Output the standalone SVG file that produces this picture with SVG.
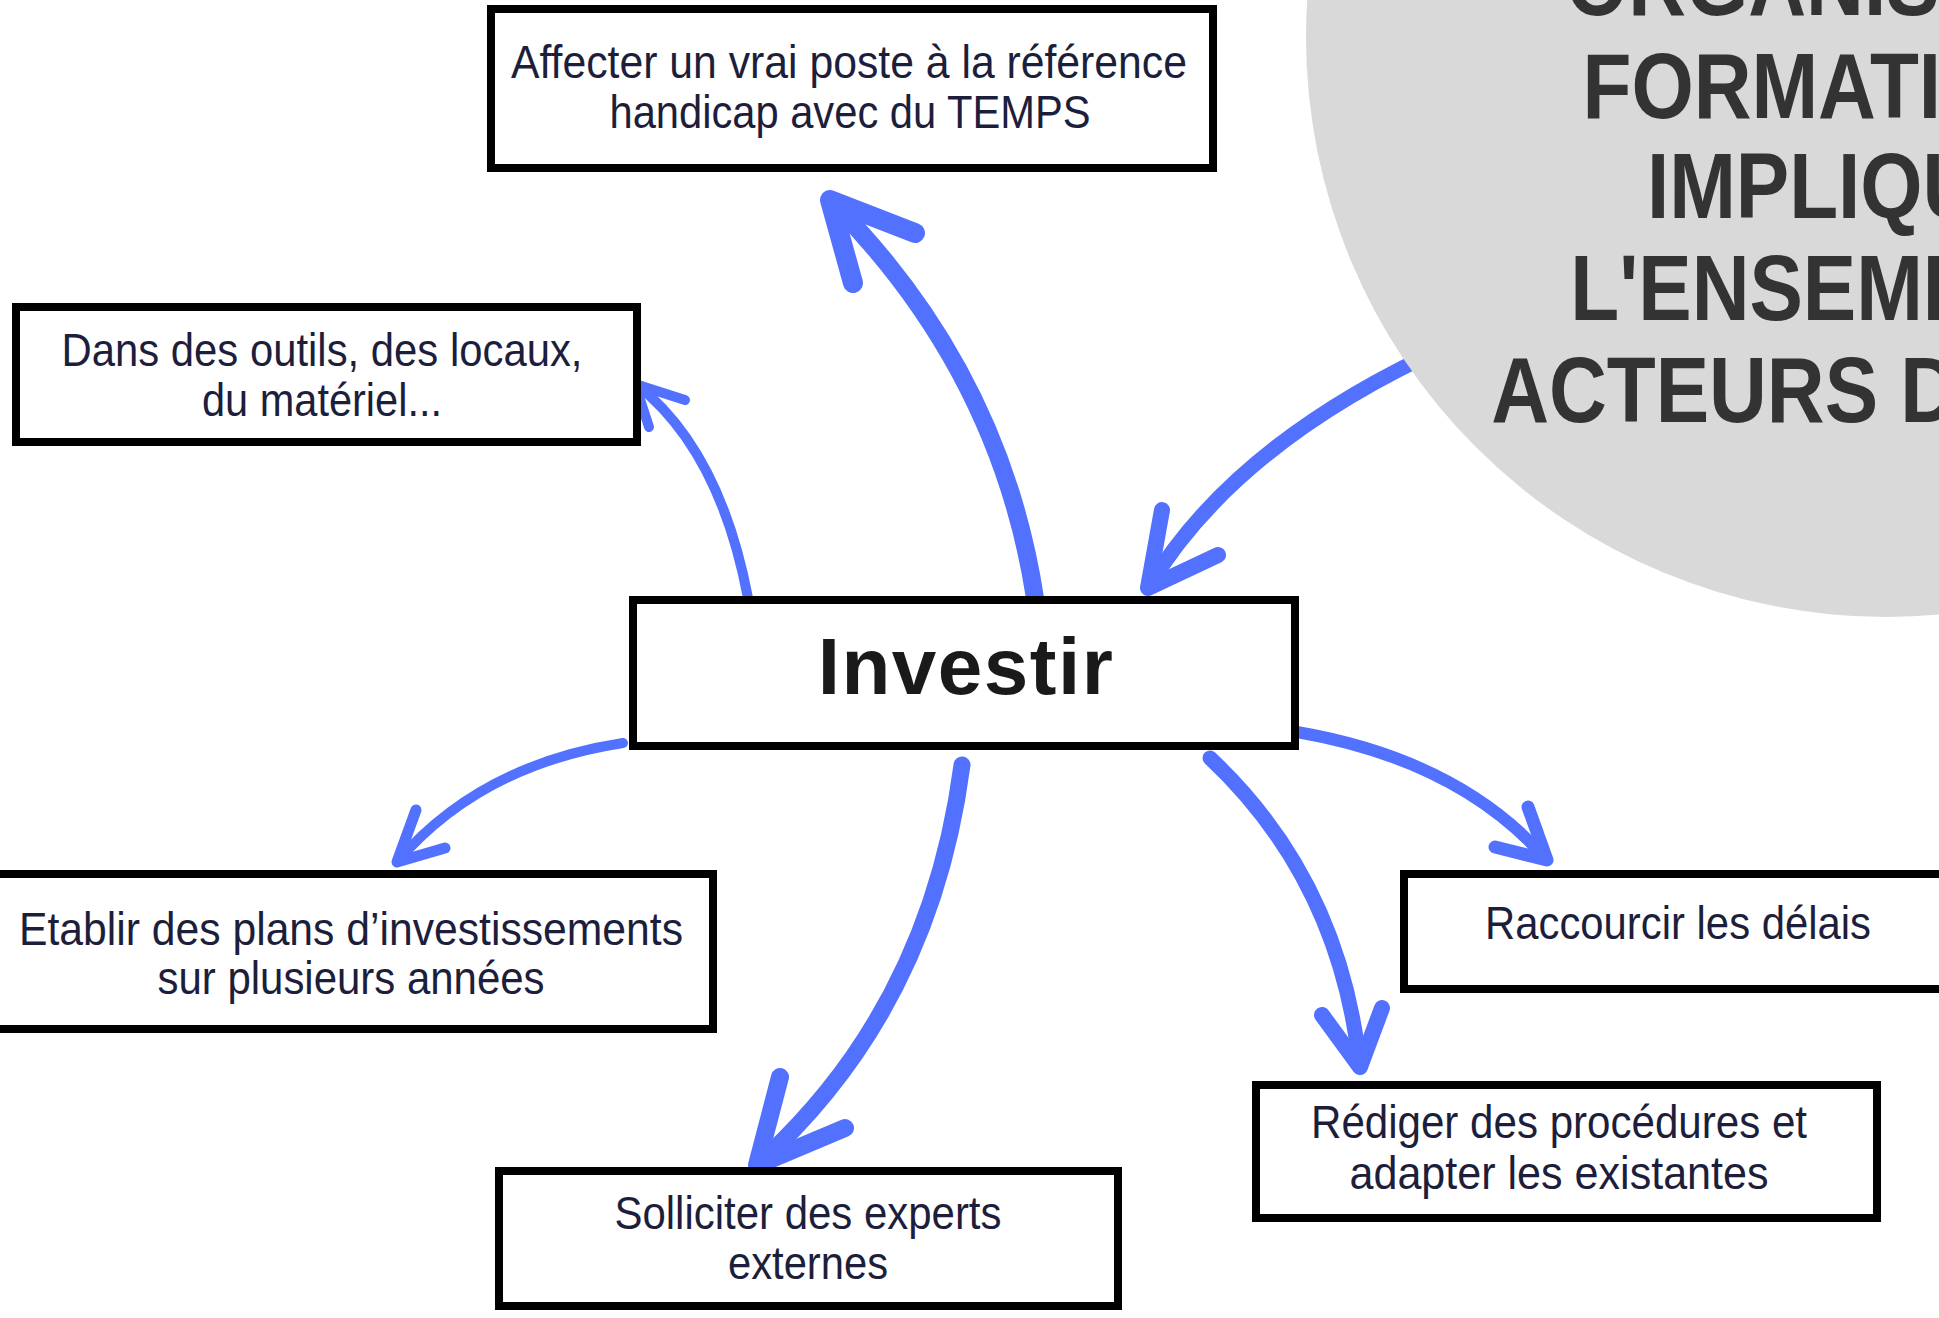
<svg xmlns="http://www.w3.org/2000/svg" width="1939" height="1318" viewBox="0 0 1939 1318">
<style>
.box{fill:#ffffff;stroke:#000000;stroke-width:8;stroke-linejoin:miter}
.lbl{font-family:"Liberation Sans",Arial,sans-serif;font-size:46px;fill:#1c1e3c;text-anchor:middle}
.title{font-family:"Liberation Sans",Arial,sans-serif;font-size:80px;font-weight:bold;fill:#1a1a1a;text-anchor:middle;letter-spacing:1.5px}
.arr{fill:none;stroke:#5271ff;stroke-linecap:round;stroke-linejoin:round}
.big{font-family:"Liberation Sans",Arial,sans-serif;font-size:92px;font-weight:bold;fill:#333333}
</style>
<rect width="1939" height="1318" fill="#ffffff"/>
<g id="connectors">
  <path class="arr" stroke-width="10" d="M748,598 Q720,450 636,384"/>
  <path class="arr" stroke-width="10" d="M685,400 L635,384 L649,427"/>
  <path class="arr" stroke-width="18" d="M1035,598 Q1000,370 830,200"/>
  <path class="arr" stroke-width="20" d="M915,233 L830,200 L853,283"/>
  <path class="arr" stroke-width="15" d="M1450,345 Q1235,442 1148,588"/>
  <path class="arr" stroke-width="16" d="M1162,510 L1148,588 L1218,555"/>
  <path class="arr" stroke-width="10" d="M623,743 Q480,765 397,862"/>
  <path class="arr" stroke-width="11" d="M416,810 L397,862 L445,848"/>
  <path class="arr" stroke-width="17" d="M962,765 Q930,1010 757,1165"/>
  <path class="arr" stroke-width="18" d="M780,1077 L757,1165 L845,1128"/>
  <path class="arr" stroke-width="12" d="M1297,732 Q1460,760 1547,860"/>
  <path class="arr" stroke-width="13" d="M1528,807 L1547,860 L1495,847"/>
  <path class="arr" stroke-width="15" d="M1210,758 Q1340,880 1360,1067"/>
  <path class="arr" stroke-width="16" d="M1322,1015 L1360,1067 L1382,1008"/>
</g>
<g id="circle-title">
  <circle cx="1886" cy="37" r="580" fill="#d9d9d9"/>
  <g transform="scale(0.87 1)">
    <text class="big" x="1800" y="15">ORGANIS</text>
    <text class="big" x="1819" y="118">FORMATI</text>
    <text class="big" x="1893" y="218">IMPLIQU</text>
    <text class="big" x="1805" y="320">L'ENSEMB</text>
    <text class="big" x="1714" y="422">ACTEURS D</text>
  </g>
</g>
<g id="node-affecter">
  <rect class="box" x="491" y="9" width="722" height="159"/>
  <text class="lbl" x="849" y="78" textLength="676" lengthAdjust="spacingAndGlyphs">Affecter un vrai poste à la référence</text>
  <text class="lbl" x="850" y="128" textLength="481" lengthAdjust="spacingAndGlyphs">handicap avec du TEMPS</text>
</g>
<g id="node-dans">
  <rect class="box" x="16" y="307" width="621" height="135"/>
  <text class="lbl" x="322" y="366" textLength="521" lengthAdjust="spacingAndGlyphs">Dans des outils, des locaux,</text>
  <text class="lbl" x="322" y="416" textLength="240" lengthAdjust="spacingAndGlyphs">du matériel...</text>
</g>
<g id="node-investir">
  <rect class="box" x="633" y="600" width="662" height="146"/>
  <text class="title" x="966" y="694">Investir</text>
</g>
<g id="node-etablir">
  <rect class="box" x="-10" y="874" width="723" height="155"/>
  <text class="lbl" x="351" y="945" textLength="664" lengthAdjust="spacingAndGlyphs">Etablir des plans d’investissements</text>
  <text class="lbl" x="351" y="994" textLength="387" lengthAdjust="spacingAndGlyphs">sur plusieurs années</text>
</g>
<g id="node-solliciter">
  <rect class="box" x="499" y="1171" width="619" height="135"/>
  <text class="lbl" x="808" y="1229" textLength="387" lengthAdjust="spacingAndGlyphs">Solliciter des experts</text>
  <text class="lbl" x="808" y="1279" textLength="160" lengthAdjust="spacingAndGlyphs">externes</text>
</g>
<g id="node-raccourcir">
  <rect class="box" x="1404" y="874" width="560" height="115"/>
  <text class="lbl" x="1678" y="939" textLength="386" lengthAdjust="spacingAndGlyphs">Raccourcir les délais</text>
</g>
<g id="node-rediger">
  <rect class="box" x="1256" y="1085" width="621" height="133"/>
  <text class="lbl" x="1559" y="1138" textLength="496" lengthAdjust="spacingAndGlyphs">Rédiger des procédures et</text>
  <text class="lbl" x="1559" y="1189" textLength="419" lengthAdjust="spacingAndGlyphs">adapter les existantes</text>
</g>
</svg>
